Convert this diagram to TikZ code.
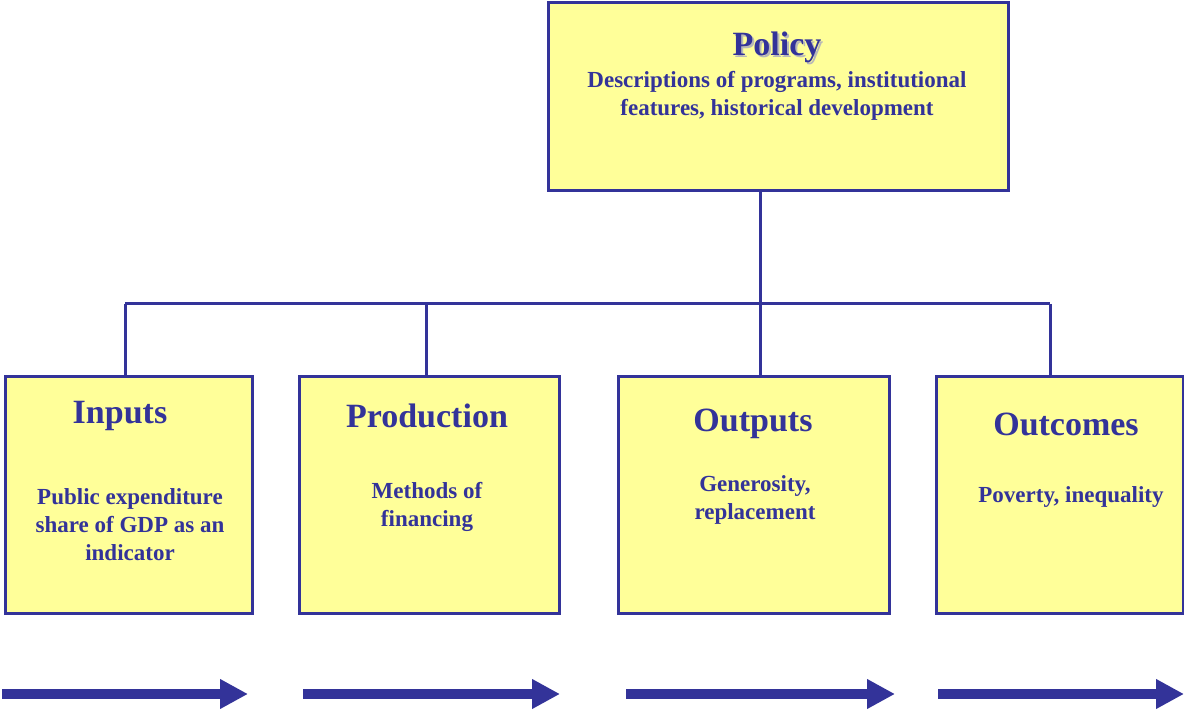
\documentclass[tikz,border=0pt]{standalone}
\usepackage{fontspec}
\setmainfont{Liberation Serif}
\usetikzlibrary{arrows.meta}
\definecolor{navy}{HTML}{333399}
\definecolor{paleyellow}{HTML}{FFFF99}
\definecolor{shadowgray}{HTML}{B8B8B8}
\newcommand{\shadowed}[1]{\rlap{\hspace{2pt}\raisebox{-2pt}{\textcolor{shadowgray}{#1}}}#1}
\begin{document}
\begin{tikzpicture}[x=1pt,y=-1pt,
  box/.style={draw=navy, fill=paleyellow, line width=3pt, inner sep=0pt},
  title/.style={text=navy, font=\fontsize{34}{40}\selectfont\bfseries, inner sep=0pt},
  sub/.style={text=navy, font=\fontsize{23}{28}\selectfont\bfseries, align=center, inner sep=0pt},
  link/.style={draw=navy, line width=3pt},
  flowarrow/.style={draw=navy, line width=10pt, -{Triangle[length=28pt,width=28pt]}}]
\useasboundingbox (0,0) rectangle (1184,711);
% boxes
\node[box, minimum width=460pt, minimum height=188pt] (policy) at (778,97) {};
\node[box, minimum width=247pt, minimum height=236pt] (inputs) at (128.5,495) {};
\node[box, minimum width=260pt, minimum height=236pt] (production) at (429,495) {};
\node[box, minimum width=271pt, minimum height=236pt] (outputs) at (753.5,495) {};
\node[box, minimum width=247pt, minimum height=236pt] (outcomes) at (1059.5,495) {};
% connectors
\coordinate (j) at (760,304);
\coordinate (hL) at (125,304);
\coordinate (hP) at (426,304);
\coordinate (hR) at (1050,304);
\draw[link] (policy.south -| j) -- (j);
\draw[link] (hL) -- (hR);
\draw[link] (hL) -- (hL |- inputs.north);
\draw[link] (hP) -- (hP |- production.north);
\draw[link] (j) -- (j |- outputs.north);
\draw[link] (hR) -- (hR |- outcomes.north);
% texts
\node[title] (policytitle) at (777,48) {\shadowed{Policy}};
\node[sub] (policysub) at (777,96) {Descriptions of programs, institutional\\features, historical development};
\node[title] (inputstitle) at (120,416) {Inputs};
\node[sub] (inputssub) at (130,525) {Public expenditure\\share of GDP as an\\indicator};
\node[title] (productiontitle) at (427,416) {Production};
\node[sub] (productionsub) at (427,507) {Methods of\\financing};
\node[title] (outputstitle) at (753,424) {Outputs};
\node[sub] (outputssub) at (755,500) {Generosity,\\replacement};
\node[title] (outcomestitle) at (1066,424) {Outcomes};
\node[sub] (outcomessub) at (1071,497) {Poverty, inequality};
% flow arrows
\coordinate (a1s) at (2,694); \coordinate (a1e) at (248,694);
\coordinate (a2s) at (303,694); \coordinate (a2e) at (560,694);
\coordinate (a3s) at (626,694); \coordinate (a3e) at (895,694);
\coordinate (a4s) at (938,694); \coordinate (a4e) at (1184,694);
\draw[flowarrow] (a1s) -- (a1e);
\draw[flowarrow] (a2s) -- (a2e);
\draw[flowarrow] (a3s) -- (a3e);
\draw[flowarrow] (a4s) -- (a4e);
\end{tikzpicture}
\end{document}
